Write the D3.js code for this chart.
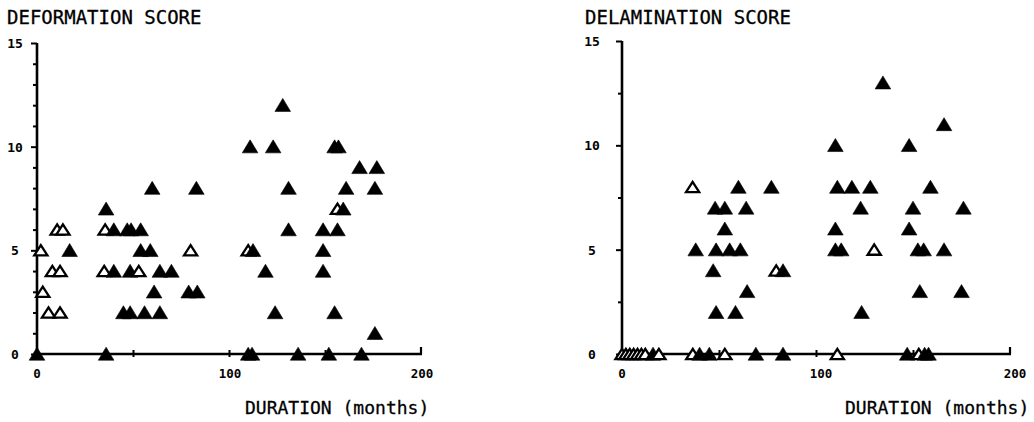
<!DOCTYPE html>
<html><head><meta charset="utf-8">
<script src="https://cdn.jsdelivr.net/npm/d3@7"></script>
<style>
body{margin:0;background:#fff}
svg{display:block}
text{font-family:"DejaVu Sans Mono",monospace;fill:#000}
</style>
</head><body>
<svg id="chart" width="1034" height="422"></svg>
<script>
// ---------- data ----------
const panelTitles = ["DEFORMATION SCORE", "DELAMINATION SCORE"];
const xAxisTitle = "DURATION (months)";
const xTickValues = [0, 100, 200];
const xMinorTicks = [50, 100, 150];
const yTickValues = [0, 5, 10, 15];
const deformationMinorY = [1,2,3,4,6,7,8,9,11,12,13,14];
const delaminationMinorY = [2.5, 7.5, 12.5];

// [months, score]
const deformationFilled = [
  [0,0],[36,0],[110,0],[112,0],[136,0],[152,0],[169,0],
  [176,1],
  [45,2],[48.5,2],[56,2],[64,2],[124,2],[155,2],
  [61,3],[79,3],[83.5,3],
  [40,4],[48.5,4],[64,4],[70,4],[119,4],[149,4],
  [17,5],[54,5],[59,5],[112.5,5],[149,5],
  [40,6],[47,6],[49,6],[54,6],[131,6],[149,6],[156.5,6],
  [36,7],[159.5,7],
  [60,8],[83,8],[131,8],[161,8],[176,8],
  [168,9],[177,9],
  [111,10],[123,10],[155,10],[157,10],
  [128,12]
];
const deformationOpen = [
  [6,2],[12,2],
  [3,3],
  [8,4],[12,4],[35,4],[53,4],
  [2,5],[80,5],[110,5],
  [10.5,6],[13.5,6],[35.5,6],
  [156.5,7]
];
const delaminationFilled = [
  [16,0],[40,0],[45,0],[69,0],[83,0],[147,0],[156,0],[158,0],
  [48.5,2],[58.5,2],[123.5,2],
  [64.5,3],[153.5,3],[175,3],
  [47,4],[83,4],
  [38,5],[48.5,5],[55.5,5],[61,5],[110,5],[113,5],[152.5,5],[155.5,5],[166,5],
  [53,6],[110,6],[148,6],
  [48,7],[53,7],[64,7],[123,7],[150,7],[176,7],
  [60,8],[77,8],[111,8],[118.5,8],[128,8],[159,8],
  [110,10],[148,10],
  [166,11],
  [134.5,13]
];
const delaminationOpen = [
  [0,0],[2,0],[4,0],[6,0],[8,0],[10,0],[12,0],[19,0],[36.5,0],[53,0],[111,0],[153,0],
  [79.5,4],
  [130,5],
  [36.4,8]
];

// ---------- drawing ----------
const svg = d3.select("#chart");
const panels = [
  {title: panelTitles[0], filled: deformationFilled, open: deformationOpen, minor: deformationMinorY,
   x0: 37, x1: 421, yTop: 43, yBase: 354, titleX: 7, labelOff: 22, xLabShift: 1, durX: 245},
  {title: panelTitles[1], filled: delaminationFilled, open: delaminationOpen, minor: delaminationMinorY,
   x0: 622, x1: 1010, yTop: 41, yBase: 354, titleX: 585, labelOff: 30, xLabShift: 5, durX: 845}
];

const filledPath = "M0,-6.8L7.8,6.2L-7.8,6.2Z";
const openPath = "M0,-5.2L6.6,5.1L-6.6,5.1Z";

panels.forEach(p => {
  const x = d3.scaleLinear().domain([0, 200]).range([p.x0, p.x1]);
  const y = d3.scaleLinear().domain([0, 15]).range([p.yBase, p.yTop]);
  const g = svg.append("g");

  // title
  g.append("text").attr("x", p.titleX).attr("y", 24)
    .attr("font-size", 19).attr("stroke", "#000").attr("stroke-width", 0.3).text(p.title);

  // minor y ticks
  g.append("g").attr("transform", `translate(${p.x0},0)`)
    .call(d3.axisLeft(y).tickValues(p.minor).tickSize(4).tickFormat(""))
    .call(a => a.select(".domain").remove())
    .call(a => a.selectAll("line").attr("stroke", "#000").attr("stroke-width", 2));

  // major y ticks + labels
  g.append("g").attr("transform", `translate(${p.x0},0)`)
    .call(d3.axisLeft(y).tickValues(yTickValues).tickSize(6).tickFormat(d3.format("d")))
    .call(a => a.select(".domain").remove())
    .call(a => a.selectAll("line").attr("stroke", "#000").attr("stroke-width", 2))
    .call(a => a.selectAll("text")
      .attr("x", -p.labelOff).attr("text-anchor", "middle")
      .attr("font-family", "DejaVu Sans Mono").attr("font-weight", "bold")
      .attr("font-size", 13).attr("dy", "0.35em"));

  // x minor ticks
  g.append("g").attr("transform", `translate(0,${p.yBase})`)
    .call(d3.axisBottom(x).tickValues(xMinorTicks).tickSize(3).tickFormat(""))
    .call(a => a.select(".domain").remove())
    .call(a => a.selectAll("line").attr("stroke", "#000").attr("stroke-width", 2).attr("y1", -4));

  // x end tick at 200
  g.append("line").attr("x1", x(200)).attr("x2", x(200))
    .attr("y1", p.yBase).attr("y2", p.yBase - 7)
    .attr("stroke", "#000").attr("stroke-width", 2.2);

  // x tick labels
  g.selectAll(".xl").data(xTickValues).join("text")
    .attr("x", d => x(d) + (d === 0 ? 0 : p.xLabShift))
    .attr("y", 378).attr("text-anchor", "middle")
    .attr("font-weight", "bold").attr("font-size", 12.5)
    .text(d => d);

  // axis lines
  g.append("line").attr("x1", p.x0).attr("x2", p.x0)
    .attr("y1", y(15)).attr("y2", p.yBase + 1.2)
    .attr("stroke", "#000").attr("stroke-width", 2.6);
  g.append("line").attr("x1", p.x0 - 1.3).attr("x2", x(200) + 1)
    .attr("y1", p.yBase).attr("y2", p.yBase)
    .attr("stroke", "#000").attr("stroke-width", 2.6);

  // x axis title
  g.append("text").attr("x", p.durX).attr("y", 414)
    .attr("font-size", 18).attr("stroke", "#000").attr("stroke-width", 0.3).text(xAxisTitle);

  // points, drawn in order of duration
  const pts = p.filled.map(d => ({m: d[0], s: d[1], open: false}))
    .concat(p.open.map(d => ({m: d[0], s: d[1], open: true})))
    .sort((a, b) => a.m - b.m);
  g.append("g").selectAll("path").data(pts).join("path")
    .attr("transform", d => `translate(${x(d.m)},${y(d.s)})`)
    .attr("d", d => d.open ? openPath : filledPath)
    .attr("fill", d => d.open ? "#fff" : "#000")
    .attr("stroke", "#000")
    .attr("stroke-width", d => d.open ? 2.3 : 0.6)
    .attr("stroke-linejoin", "miter");
});
</script>
</body></html>
